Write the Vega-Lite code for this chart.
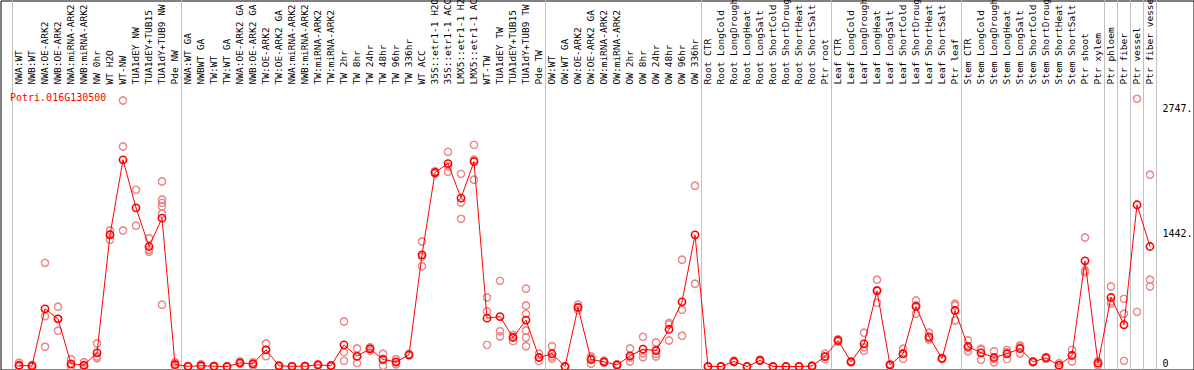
{
"$schema": "https://vega.github.io/schema/vega-lite/v6.json",
"width": 1193, "height": 369,
"autosize": {"type": "none"},
"padding": 0.5,
"background": "white",
"view": {"stroke": "black", "strokeWidth": 1, "fill": "white"},
"datasets": {
"groups": [
{"first":"NWA:WT","last":"Pde NW"},
{"first":"NWA:WT GA","last":"Pde TW"},
{"first":"OW:WT","last":"OW 336hr"},
{"first":"Root CTR","last":"Ptr root"},
{"first":"Leaf CTR","last":"Ptr leaf"},
{"first":"Stem CTR","last":"Ptr xylem"},
{"first":"Ptr phloem","last":"Ptr phloem"},
{"first":"Ptr fiber","last":"Ptr fiber"},
{"first":"Ptr vessel","last":"Ptr vessel"},
{"first":"Ptr fiber vessel","last":"Ptr fiber vessel"}
],
"means": [
{"i":1,"name":"NWA:WT","v":13},{"i":2,"name":"NWB:WT","v":5},{"i":3,"name":"NWA:OE-ARK2","v":603},{"i":4,"name":"NWB:OE-ARK2","v":498},
{"i":5,"name":"NWA:miRNA-ARK2","v":28},{"i":6,"name":"NWB:miRNA-ARK2","v":15},{"i":7,"name":"NW 0hr","v":143},{"i":8,"name":"WT H2O","v":1376},
{"i":9,"name":"WT-NW","v":2160},{"i":10,"name":"TUA1dEY NW","v":1658},{"i":11,"name":"TUA1dEY+TUB15","v":1254},{"i":12,"name":"TUA1dY+TUB9 NW","v":1550},
{"i":13,"name":"Pde NW","v":21},{"i":14,"name":"NWA:WT GA","v":2},{"i":15,"name":"NWBWT GA","v":8},{"i":16,"name":"TW:WT","v":3},
{"i":17,"name":"TW:WT GA","v":0},{"i":18,"name":"NWA:OE-ARK2 GA","v":38},{"i":19,"name":"NWB:OE-ARK2 GA","v":28},{"i":20,"name":"TW:OE-ARK2","v":174},
{"i":21,"name":"TW:OE-ARK2 GA","v":7},{"i":22,"name":"NWA:miRNA-ARK2 GA","v":2},{"i":23,"name":"NWB:miRNA-ARK2 GA","v":3},{"i":24,"name":"TW:miRNA-ARK2","v":17},
{"i":25,"name":"TW:miRNA-ARK2 ","v":8},{"i":26,"name":"TW 2hr","v":226},{"i":27,"name":"TW 8hr","v":108},{"i":28,"name":"TW 24hr","v":185},
{"i":29,"name":"TW 48hr","v":73},{"i":30,"name":"TW 96hr","v":49},{"i":31,"name":"TW 336hr","v":122},{"i":32,"name":"WT ACC","v":1167},
{"i":33,"name":"35S::etr1-1 H2O","v":2027},{"i":34,"name":"35S::etr1-1 ACC","v":2121},{"i":35,"name":"LMX5::etr1-1 H2O","v":1760},{"i":36,"name":"LMX5::etr1-1 ACC","v":2142},
{"i":37,"name":"WT-TW","v":505},{"i":38,"name":"TUA1dEY TW","v":522},{"i":39,"name":"TUA1dEY+TUB15 ","v":303},{"i":40,"name":"TUA1dY+TUB9 TW","v":485},
{"i":41,"name":"Pde TW","v":94},{"i":42,"name":"OW:WT","v":133},{"i":43,"name":"OW:WT GA","v":0},{"i":44,"name":"OW:OE-ARK2","v":617},
{"i":45,"name":"OW:OE-ARK2 GA","v":73},{"i":46,"name":"OW:miRNA-ARK2","v":49},{"i":47,"name":"OW:miRNA-ARK2 ","v":17},{"i":48,"name":"OW 2hr","v":111},
{"i":49,"name":"OW 8hr","v":181},{"i":50,"name":"OW 24hr","v":167},{"i":51,"name":"OW 48hr","v":387},{"i":52,"name":"OW 96hr","v":676},
{"i":53,"name":"OW 336hr","v":1376},{"i":54,"name":"Root CTR","v":0},{"i":55,"name":"Root LongCold","v":0},{"i":56,"name":"Root LongDrought","v":52},
{"i":57,"name":"Root LongHeat","v":0},{"i":58,"name":"Root LongSalt","v":63},{"i":59,"name":"Root ShortCold","v":0},{"i":60,"name":"Root ShortDrought","v":0},
{"i":61,"name":"Root ShortHeat","v":0},{"i":62,"name":"Root ShortSalt","v":5},{"i":63,"name":"Ptr root","v":104},{"i":64,"name":"Leaf CTR","v":272},
{"i":65,"name":"Leaf LongCold","v":49},{"i":66,"name":"Leaf LongDrought","v":237},{"i":67,"name":"Leaf LongHeat","v":791},{"i":68,"name":"Leaf LongSalt","v":17},
{"i":69,"name":"Leaf ShortCold","v":133},{"i":70,"name":"Leaf ShortDrought","v":627},{"i":71,"name":"Leaf ShortHeat","v":310},{"i":72,"name":"Leaf ShortSalt","v":84},
{"i":73,"name":"Ptr leaf","v":585},{"i":74,"name":"Stem CTR","v":209},{"i":75,"name":"Stem LongCold","v":143},{"i":76,"name":"Stem LongDrought","v":94},
{"i":77,"name":"Stem LongHeat","v":133},{"i":78,"name":"Stem LongSalt","v":188},{"i":79,"name":"Stem ShortCold","v":49},{"i":80,"name":"Stem ShortDrought","v":91},
{"i":81,"name":"Stem ShortHeat","v":14},{"i":82,"name":"Stem ShortSalt","v":115},{"i":83,"name":"Ptr shoot","v":1104},{"i":84,"name":"Ptr xylem","v":35},
{"i":85,"name":"Ptr phloem","v":721},{"i":86,"name":"Ptr fiber","v":436},{"i":87,"name":"Ptr vessel","v":1690},{"i":88,"name":"Ptr fiber vessel","v":1254}
],
"reps": [
{"name":"NWA:WT","v":40},{"name":"NWA:WT","v":0},{"name":"NWA:WT","v":0},
{"name":"NWB:WT","v":16},{"name":"NWB:WT","v":0},{"name":"NWB:WT","v":0},
{"name":"NWA:OE-ARK2","v":1083},{"name":"NWA:OE-ARK2","v":526},{"name":"NWA:OE-ARK2","v":206},
{"name":"NWB:OE-ARK2","v":624},{"name":"NWB:OE-ARK2","v":498},{"name":"NWB:OE-ARK2","v":373},
{"name":"NWA:miRNA-ARK2","v":77},{"name":"NWA:miRNA-ARK2","v":7},{"name":"NWA:miRNA-ARK2","v":0},
{"name":"NWB:miRNA-ARK2","v":45},{"name":"NWB:miRNA-ARK2","v":0},{"name":"NWB:miRNA-ARK2","v":0},
{"name":"NW 0hr","v":240},{"name":"NW 0hr","v":104},{"name":"NW 0hr","v":85},
{"name":"WT H2O","v":1421},{"name":"WT H2O","v":1383},{"name":"WT H2O","v":1324},
{"name":"WT-NW","v":2780},{"name":"WT-NW","v":2299},{"name":"WT-NW","v":1421},
{"name":"TUA1dEY NW","v":1846},{"name":"TUA1dEY NW","v":1470},
{"name":"TUA1dEY+TUB15","v":1341},{"name":"TUA1dEY+TUB15","v":1219},{"name":"TUA1dEY+TUB15","v":1200},
{"name":"TUA1dY+TUB9 NW","v":1933},{"name":"TUA1dY+TUB9 NW","v":1745},{"name":"TUA1dY+TUB9 NW","v":1710},{"name":"TUA1dY+TUB9 NW","v":1672},{"name":"TUA1dY+TUB9 NW","v":1596},{"name":"TUA1dY+TUB9 NW","v":645},
{"name":"Pde NW","v":45},{"name":"Pde NW","v":14},{"name":"Pde NW","v":5},
{"name":"NWA:WT GA","v":5},{"name":"NWA:WT GA","v":0},{"name":"NWA:WT GA","v":0},
{"name":"NWBWT GA","v":24},{"name":"NWBWT GA","v":0},{"name":"NWBWT GA","v":0},
{"name":"TW:WT","v":5},{"name":"TW:WT","v":2},{"name":"TW:WT","v":0},
{"name":"TW:WT GA","v":0},{"name":"TW:WT GA","v":0},{"name":"TW:WT GA","v":0},
{"name":"NWA:OE-ARK2 GA","v":52},{"name":"NWA:OE-ARK2 GA","v":33},{"name":"NWA:OE-ARK2 GA","v":28},
{"name":"NWB:OE-ARK2 GA","v":45},{"name":"NWB:OE-ARK2 GA","v":28},{"name":"NWB:OE-ARK2 GA","v":10},
{"name":"TW:OE-ARK2","v":240},{"name":"TW:OE-ARK2","v":174},{"name":"TW:OE-ARK2","v":108},
{"name":"TW:OE-ARK2 GA","v":12},{"name":"TW:OE-ARK2 GA","v":5},{"name":"TW:OE-ARK2 GA","v":3},
{"name":"NWA:miRNA-ARK2 GA","v":3},{"name":"NWA:miRNA-ARK2 GA","v":2},{"name":"NWA:miRNA-ARK2 GA","v":0},
{"name":"NWB:miRNA-ARK2 GA","v":5},{"name":"NWB:miRNA-ARK2 GA","v":2},{"name":"NWB:miRNA-ARK2 GA","v":0},
{"name":"TW:miRNA-ARK2","v":25},{"name":"TW:miRNA-ARK2","v":17},{"name":"TW:miRNA-ARK2","v":10},
{"name":"TW:miRNA-ARK2 ","v":14},{"name":"TW:miRNA-ARK2 ","v":8},{"name":"TW:miRNA-ARK2 ","v":3},
{"name":"TW 2hr","v":470},{"name":"TW 2hr","v":150},{"name":"TW 2hr","v":59},
{"name":"TW 8hr","v":188},{"name":"TW 8hr","v":100},{"name":"TW 8hr","v":35},
{"name":"TW 24hr","v":202},{"name":"TW 24hr","v":185},{"name":"TW 24hr","v":167},
{"name":"TW 48hr","v":133},{"name":"TW 48hr","v":80},{"name":"TW 48hr","v":7},
{"name":"TW 96hr","v":77},{"name":"TW 96hr","v":45},{"name":"TW 96hr","v":24},
{"name":"TW 336hr","v":130},{"name":"TW 336hr","v":122},{"name":"TW 336hr","v":114},
{"name":"WT ACC","v":1306},{"name":"WT ACC","v":1148},{"name":"WT ACC","v":1048},
{"name":"35S::etr1-1 H2O","v":2040},{"name":"35S::etr1-1 H2O","v":2027},{"name":"35S::etr1-1 H2O","v":2015},
{"name":"35S::etr1-1 ACC","v":2243},{"name":"35S::etr1-1 ACC","v":2090},{"name":"35S::etr1-1 ACC","v":2034},
{"name":"LMX5::etr1-1 H2O","v":2013},{"name":"LMX5::etr1-1 H2O","v":1714},{"name":"LMX5::etr1-1 H2O","v":1543},
{"name":"LMX5::etr1-1 ACC","v":2316},{"name":"LMX5::etr1-1 ACC","v":2160},{"name":"LMX5::etr1-1 ACC","v":1951},
{"name":"WT-TW","v":721},{"name":"WT-TW","v":575},{"name":"WT-TW","v":226},
{"name":"TUA1dEY TW","v":895},{"name":"TUA1dEY TW","v":369},{"name":"TUA1dEY TW","v":314},
{"name":"TUA1dEY+TUB15 ","v":330},{"name":"TUA1dEY+TUB15 ","v":310},{"name":"TUA1dEY+TUB15 ","v":265},
{"name":"TUA1dY+TUB9 TW","v":812},{"name":"TUA1dY+TUB9 TW","v":637},{"name":"TUA1dY+TUB9 TW","v":550},{"name":"TUA1dY+TUB9 TW","v":376},{"name":"TUA1dY+TUB9 TW","v":303},{"name":"TUA1dY+TUB9 TW","v":212},
{"name":"Pde TW","v":133},{"name":"Pde TW","v":94},{"name":"Pde TW","v":56},
{"name":"OW:WT","v":212},{"name":"OW:WT","v":104},{"name":"OW:WT","v":80},
{"name":"OW:WT GA","v":0},{"name":"OW:WT GA","v":0},{"name":"OW:WT GA","v":0},
{"name":"OW:OE-ARK2","v":645},{"name":"OW:OE-ARK2","v":617},{"name":"OW:OE-ARK2","v":590},
{"name":"OW:OE-ARK2 GA","v":104},{"name":"OW:OE-ARK2 GA","v":87},{"name":"OW:OE-ARK2 GA","v":28},
{"name":"OW:miRNA-ARK2","v":60},{"name":"OW:miRNA-ARK2","v":49},{"name":"OW:miRNA-ARK2","v":38},
{"name":"OW:miRNA-ARK2 ","v":25},{"name":"OW:miRNA-ARK2 ","v":17},{"name":"OW:miRNA-ARK2 ","v":9},
{"name":"OW 2hr","v":188},{"name":"OW 2hr","v":93},{"name":"OW 2hr","v":52},
{"name":"OW 8hr","v":310},{"name":"OW 8hr","v":135},{"name":"OW 8hr","v":97},
{"name":"OW 24hr","v":251},{"name":"OW 24hr","v":133},{"name":"OW 24hr","v":104},
{"name":"OW 48hr","v":456},{"name":"OW 48hr","v":439},{"name":"OW 48hr","v":272},
{"name":"OW 96hr","v":1115},{"name":"OW 96hr","v":592},{"name":"OW 96hr","v":321},
{"name":"OW 336hr","v":1888},{"name":"OW 336hr","v":864},
{"name":"Root CTR","v":0},{"name":"Root CTR","v":0},{"name":"Root CTR","v":0},
{"name":"Root LongCold","v":0},{"name":"Root LongCold","v":0},{"name":"Root LongCold","v":0},
{"name":"Root LongDrought","v":60},{"name":"Root LongDrought","v":52},{"name":"Root LongDrought","v":44},
{"name":"Root LongHeat","v":0},{"name":"Root LongHeat","v":0},{"name":"Root LongHeat","v":0},
{"name":"Root LongSalt","v":70},{"name":"Root LongSalt","v":63},{"name":"Root LongSalt","v":56},
{"name":"Root ShortCold","v":0},{"name":"Root ShortCold","v":0},{"name":"Root ShortCold","v":0},
{"name":"Root ShortDrought","v":0},{"name":"Root ShortDrought","v":0},{"name":"Root ShortDrought","v":0},
{"name":"Root ShortHeat","v":0},{"name":"Root ShortHeat","v":0},{"name":"Root ShortHeat","v":0},
{"name":"Root ShortSalt","v":8},{"name":"Root ShortSalt","v":5},{"name":"Root ShortSalt","v":2},
{"name":"Ptr root","v":133},{"name":"Ptr root","v":104},{"name":"Ptr root","v":77},
{"name":"Leaf CTR","v":285},{"name":"Leaf CTR","v":272},{"name":"Leaf CTR","v":259},
{"name":"Leaf LongCold","v":55},{"name":"Leaf LongCold","v":49},{"name":"Leaf LongCold","v":43},
{"name":"Leaf LongDrought","v":352},{"name":"Leaf LongDrought","v":202},{"name":"Leaf LongDrought","v":164},
{"name":"Leaf LongHeat","v":906},{"name":"Leaf LongHeat","v":800},{"name":"Leaf LongHeat","v":666},
{"name":"Leaf LongSalt","v":25},{"name":"Leaf LongSalt","v":17},{"name":"Leaf LongSalt","v":9},
{"name":"Leaf ShortCold","v":185},{"name":"Leaf ShortCold","v":133},{"name":"Leaf ShortCold","v":80},
{"name":"Leaf ShortDrought","v":690},{"name":"Leaf ShortDrought","v":640},{"name":"Leaf ShortDrought","v":551},
{"name":"Leaf ShortHeat","v":352},{"name":"Leaf ShortHeat","v":295},{"name":"Leaf ShortHeat","v":283},
{"name":"Leaf ShortSalt","v":90},{"name":"Leaf ShortSalt","v":84},{"name":"Leaf ShortSalt","v":78},
{"name":"Ptr leaf","v":655},{"name":"Ptr leaf","v":637},{"name":"Ptr leaf","v":481},
{"name":"Stem CTR","v":272},{"name":"Stem CTR","v":195},{"name":"Stem CTR","v":160},
{"name":"Stem LongCold","v":185},{"name":"Stem LongCold","v":174},{"name":"Stem LongCold","v":70},
{"name":"Stem LongDrought","v":160},{"name":"Stem LongDrought","v":77},{"name":"Stem LongDrought","v":45},
{"name":"Stem LongHeat","v":174},{"name":"Stem LongHeat","v":148},{"name":"Stem LongHeat","v":77},
{"name":"Stem LongSalt","v":220},{"name":"Stem LongSalt","v":208},{"name":"Stem LongSalt","v":136},
{"name":"Stem ShortCold","v":55},{"name":"Stem ShortCold","v":49},{"name":"Stem ShortCold","v":43},
{"name":"Stem ShortDrought","v":100},{"name":"Stem ShortDrought","v":91},{"name":"Stem ShortDrought","v":82},
{"name":"Stem ShortHeat","v":35},{"name":"Stem ShortHeat","v":7},{"name":"Stem ShortHeat","v":0},
{"name":"Stem ShortSalt","v":174},{"name":"Stem ShortSalt","v":119},{"name":"Stem ShortSalt","v":52},
{"name":"Ptr shoot","v":1348},{"name":"Ptr shoot","v":1000},{"name":"Ptr shoot","v":982},
{"name":"Ptr xylem","v":56},{"name":"Ptr xylem","v":35},{"name":"Ptr xylem","v":14},
{"name":"Ptr phloem","v":836},{"name":"Ptr phloem","v":679},{"name":"Ptr phloem","v":655},
{"name":"Ptr fiber","v":707},{"name":"Ptr fiber","v":551},{"name":"Ptr fiber","v":59},
{"name":"Ptr vessel","v":2797},{"name":"Ptr vessel","v":571},
{"name":"Ptr fiber vessel","v":2003},{"name":"Ptr fiber vessel","v":906},{"name":"Ptr fiber vessel","v":836}
]
},
"layer": [
{
"data": {"name": "reps"},
"mark": {"type": "point", "shape": "circle", "filled": false, "color": "#ea8a8a", "size": 52, "strokeWidth": 1.2, "opacity": 1},
"encoding": {
"x": {"field": "name", "type": "nominal", "title": null,
"scale": {"type": "band", "range": [12, 1156], "paddingInner": 0, "paddingOuter": 0,
"domain": ["NWA:WT","NWB:WT","NWA:OE-ARK2","NWB:OE-ARK2","NWA:miRNA-ARK2","NWB:miRNA-ARK2","NW 0hr","WT H2O","WT-NW","TUA1dEY NW","TUA1dEY+TUB15","TUA1dY+TUB9 NW","Pde NW","NWA:WT GA","NWBWT GA","TW:WT","TW:WT GA","NWA:OE-ARK2 GA","NWB:OE-ARK2 GA","TW:OE-ARK2","TW:OE-ARK2 GA","NWA:miRNA-ARK2 GA","NWB:miRNA-ARK2 GA","TW:miRNA-ARK2","TW:miRNA-ARK2 ","TW 2hr","TW 8hr","TW 24hr","TW 48hr","TW 96hr","TW 336hr","WT ACC","35S::etr1-1 H2O","35S::etr1-1 ACC","LMX5::etr1-1 H2O","LMX5::etr1-1 ACC","WT-TW","TUA1dEY TW","TUA1dEY+TUB15 ","TUA1dY+TUB9 TW","Pde TW","OW:WT","OW:WT GA","OW:OE-ARK2","OW:OE-ARK2 GA","OW:miRNA-ARK2","OW:miRNA-ARK2 ","OW 2hr","OW 8hr","OW 24hr","OW 48hr","OW 96hr","OW 336hr","Root CTR","Root LongCold","Root LongDrought","Root LongHeat","Root LongSalt","Root ShortCold","Root ShortDrought","Root ShortHeat","Root ShortSalt","Ptr root","Leaf CTR","Leaf LongCold","Leaf LongDrought","Leaf LongHeat","Leaf LongSalt","Leaf ShortCold","Leaf ShortDrought","Leaf ShortHeat","Leaf ShortSalt","Ptr leaf","Stem CTR","Stem LongCold","Stem LongDrought","Stem LongHeat","Stem LongSalt","Stem ShortCold","Stem ShortDrought","Stem ShortHeat","Stem ShortSalt","Ptr shoot","Ptr xylem","Ptr phloem","Ptr fiber","Ptr vessel","Ptr fiber vessel"]},
"axis": {"orient": "top", "offset": -86, "translate": 0, "title": null, "labelAngle": -90, "labelAlign": "left", "labelBaseline": "middle", "labelPadding": 2, "ticks": false, "domain": false, "grid": false, "labelFont": "DejaVu Sans Mono", "labelFontSize": 9.5, "labelColor": "black", "labelOverlap": false, "labelLimit": 0, "labelFlush": false}
},
"y": {"field": "v", "type": "quantitative", "title": null,
"scale": {"domain": [0, 2926], "range": [366, 86], "zero": false, "nice": false},
"axis": {"orient": "right", "offset": -38, "translate": 0, "title": null, "values": [0, 1442, 2747],
"grid": false, "ticks": false, "tickSize": 0, "domain": false,
"labelAlign": "left",
"labelBaseline": {"condition": {"test": "datum.value == 0", "value": "alphabetic"}, "value": "top"},
"labelPadding": 7, "labelFont": "DejaVu Sans Mono", "labelFontSize": 10, "labelColor": "black",
"labelExpr": "datum.value == 0 ? '0' : format(datum.value, 'd') + '.'",
"labelOverlap": false, "labelFlush": false}
}
}
},
{
"mark": {"type": "rule", "color": "#c0c0c0", "strokeWidth": 1},
"encoding": {"y": {"datum": 1442}}
},
{
"mark": {"type": "rule", "color": "black", "strokeWidth": 1},
"encoding": {"y": {"datum": 2926}}
},
{
"data": {"name": "groups"},
"mark": {"type": "rule", "color": "#c0c0c0", "strokeWidth": 1},
"encoding": {"x": {"field": "last", "type": "nominal", "bandPosition": 1}}
},
{
"data": {"name": "groups"},
"mark": {"type": "rule", "color": "#c0c0c0", "strokeWidth": 1},
"encoding": {"x": {"field": "first", "type": "nominal", "bandPosition": 0}}
},
{
"data": {"name": "reps"},
"mark": {"type": "point", "shape": "circle", "filled": false, "color": "#ea8a8a", "size": 52, "strokeWidth": 1.2, "opacity": 1},
"encoding": {
"x": {"field": "name", "type": "nominal"},
"y": {"field": "v", "type": "quantitative"}
}
},
{
"data": {"name": "means"},
"mark": {"type": "line", "color": "#ff0000", "strokeWidth": 1},
"encoding": {
"x": {"field": "name", "type": "nominal"},
"y": {"field": "v", "type": "quantitative"},
"order": {"field": "i", "type": "quantitative"}
}
},
{
"data": {"name": "means"},
"mark": {"type": "point", "shape": "circle", "filled": false, "color": "#ff0000", "size": 52, "strokeWidth": 1.6, "opacity": 1},
"encoding": {
"x": {"field": "name", "type": "nominal"},
"y": {"field": "v", "type": "quantitative"}
}
},
{
"data": {"values": [{"gene": "Potri.016G130500"}]},
"mark": {"type": "text", "color": "#ff0000", "font": "DejaVu Sans Mono", "fontSize": 10, "align": "left", "baseline": "alphabetic", "dx": -9, "dy": 14},
"encoding": {
"x": {"datum": "NWA:WT"},
"y": {"datum": 2926},
"text": {"field": "gene"}
}
}
]
}
